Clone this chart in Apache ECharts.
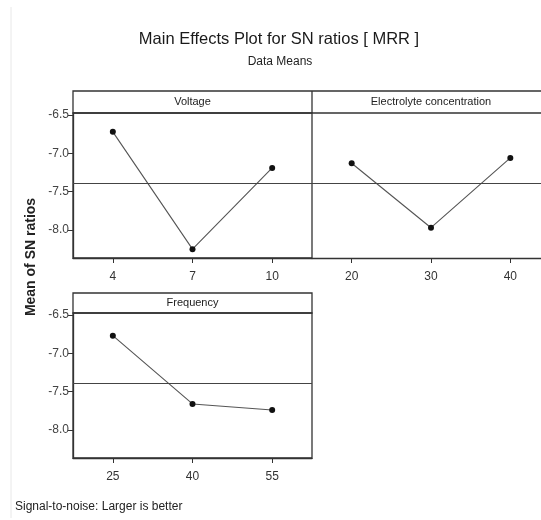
<!DOCTYPE html>
<html>
<head>
<meta charset="utf-8">
<script src="https://cdn.jsdelivr.net/npm/echarts@6/dist/echarts.min.js"></script>
<style>
html,body{margin:0;padding:0;background:#fff;}
#chart{width:541px;height:520px;}
</style>
</head>
<body>
<div id="chart"></div>
<script>
// ---- data ----
const voltageLevels = ['4', '7', '10'];
const voltageSN = [-6.72, -8.25, -7.19];
const electrolyteLevels = [20, 30, 40];
const electrolyteSN = [-7.13, -7.97, -7.06];
const frequencyLevels = ['25', '40', '55'];
const frequencySN = [-6.77, -7.66, -7.74];
const overallMean = -7.39;
const yTickValues = [-8.0, -7.5, -7.0, -6.5];
const panelTitles = ['Voltage', 'Electrolyte concentration', 'Frequency'];
const chartTitle = 'Main Effects Plot for SN ratios [ MRR ]';
const chartSubtitle = 'Data Means';
const yAxisTitle = 'Mean of SN ratios';
const footnote = 'Signal-to-noise: Larger is better';

// ---- styles ----
const FONT = '"Liberation Sans", Arial, sans-serif';
const frameColor = '#333';
const yMin = -8.365, yMax = -6.474;
// right panel is cut by the picture edge: its x range runs from half a step
// before the first level to where the canvas ends
const elecStep = electrolyteLevels[1] - electrolyteLevels[0];
const elecMin = electrolyteLevels[0] - elecStep / 2;
const elecPxPerUnit = 238 / (elecStep * electrolyteLevels.length);
const elecMax = elecMin + 229 / elecPxPerUnit;

const chart = echarts.init(document.getElementById('chart'), null, {renderer: 'canvas'});

const grids = [
  {left: 73, top: 113, width: 239, height: 145, show: true},
  {left: 312, top: 113, width: 229, height: 145, show: false},
  {left: 73, top: 313, width: 239, height: 145, show: true}
].map(g => Object.assign({borderColor: frameColor, borderWidth: 1.3, backgroundColor: 'transparent'}, g));

const axisLineStyle = {show: true, lineStyle: {color: frameColor, width: 1.3}};
const xLabelStyle = {show: true, margin: 13, fontSize: 12, color: '#333', fontFamily: FONT};

const xAxes = [
  {type: 'category', gridIndex: 0, data: voltageLevels, boundaryGap: true,
    axisLine: axisLineStyle,
    axisTick: {show: true, alignWithLabel: true, length: 5, lineStyle: {color: frameColor}},
    axisLabel: xLabelStyle, splitLine: {show: false}},
  {type: 'value', gridIndex: 1, min: elecMin, max: elecMax,
    axisLine: axisLineStyle,
    axisTick: {show: true, length: 5, customValues: electrolyteLevels, lineStyle: {color: frameColor}},
    axisLabel: Object.assign({customValues: electrolyteLevels, formatter: v => String(v)}, xLabelStyle),
    splitLine: {show: false}},
  {type: 'category', gridIndex: 2, data: frequencyLevels, boundaryGap: true,
    axisLine: axisLineStyle,
    axisTick: {show: true, alignWithLabel: true, length: 5, lineStyle: {color: frameColor}},
    axisLabel: xLabelStyle, splitLine: {show: false}}
];

const yAxes = [0, 1, 2].map(i => ({
  type: 'value', gridIndex: i, min: yMin, max: yMax,
  axisLine: {show: i !== 1, lineStyle: {color: frameColor, width: 1.3}},
  axisTick: {show: i !== 1, inside: false, length: 5, customValues: yTickValues, lineStyle: {color: frameColor}},
  axisLabel: {show: i !== 1, margin: 4, fontSize: 12, color: '#444', fontFamily: FONT,
    customValues: yTickValues, formatter: v => Number(v).toFixed(1)},
  splitLine: {show: false}
}));

const seriesData = [
  voltageSN,
  electrolyteLevels.map((x, k) => [x, electrolyteSN[k]]),
  frequencySN
];

const series = seriesData.map((vals, i) => ({
  type: 'line', xAxisIndex: i, yAxisIndex: i, data: vals,
  symbol: 'circle', symbolSize: 6,
  itemStyle: {color: '#111'},
  lineStyle: {color: '#555', width: 1.1},
  animation: false,
  markLine: {
    silent: true, symbol: 'none', label: {show: false},
    lineStyle: {color: '#444', width: 1.2, type: 'solid'},
    data: [{yAxis: overallMean}]
  }
}));

const headerStyle = {fill: 'none', stroke: frameColor, lineWidth: 1.3};
const graphic = [
  // faint outer figure edge
  {type: 'line', shape: {x1: 11, y1: 7, x2: 11, y2: 518}, style: {stroke: '#e8e8e8', lineWidth: 1}, silent: true},
  // header strips
  {type: 'rect', shape: {x: 73, y: 91, width: 477, height: 22}, style: headerStyle, silent: true},
  {type: 'line', shape: {x1: 312, y1: 91, x2: 312, y2: 113}, style: {stroke: frameColor, lineWidth: 1.3}, silent: true},
  {type: 'rect', shape: {x: 73, y: 293, width: 239, height: 20}, style: headerStyle, silent: true},
  {type: 'text', style: {text: panelTitles[0], x: 192.5, y: 102, textAlign: 'center', textVerticalAlign: 'middle', font: '11px ' + FONT, fill: '#222'}},
  {type: 'text', style: {text: panelTitles[1], x: 431, y: 102, textAlign: 'center', textVerticalAlign: 'middle', font: '11px ' + FONT, fill: '#222'}},
  {type: 'text', style: {text: panelTitles[2], x: 192.5, y: 303, textAlign: 'center', textVerticalAlign: 'middle', font: '11px ' + FONT, fill: '#222'}},
  // titles
  {type: 'text', style: {text: chartTitle, x: 279, y: 39, textAlign: 'center', textVerticalAlign: 'middle', font: '16.5px ' + FONT, fill: '#1a1a1a'}},
  {type: 'text', style: {text: chartSubtitle, x: 280, y: 62, textAlign: 'center', textVerticalAlign: 'middle', font: '12px ' + FONT, fill: '#222'}},
  // y axis title
  {type: 'text', x: 31, y: 257, rotation: Math.PI / 2,
    style: {text: yAxisTitle, x: 0, y: 0, textAlign: 'center', textVerticalAlign: 'middle', font: 'bold 14px ' + FONT, fill: '#222'}},
  // footnote
  {type: 'text', style: {text: footnote, x: 15, y: 507, textAlign: 'left', textVerticalAlign: 'middle', font: '12px ' + FONT, fill: '#222'}}
];

chart.setOption({
  backgroundColor: '#fff',
  animation: false,
  grid: grids,
  xAxis: xAxes,
  yAxis: yAxes,
  series: series,
  graphic: graphic
});
</script>
</body>
</html>
